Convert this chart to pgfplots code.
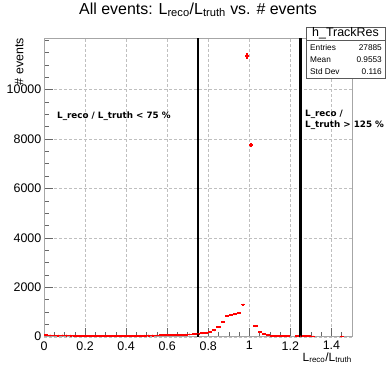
\documentclass[border=0pt]{standalone}
\usepackage{pgfplots}
\usepackage{pgfplotstable}
\pgfplotsset{compat=1.18}
\usepackage{fontspec}
\setmainfont{Liberation Sans}
\newfontfamily\djv{DejaVu Sans}

\pgfplotstableread{
x y ey
0.01 55 7.4
0.03 50 7.1
0.05 52 7.2
0.07 48 6.9
0.09 50 7.1
0.11 47 6.9
0.13 45 6.7
0.15 40 6.3
0.17 30 5.5
0.19 28 5.3
0.21 27 5.2
0.23 25 5.0
0.25 26 5.1
0.27 24 4.9
0.29 25 5.0
0.31 26 5.1
0.33 25 5.0
0.35 27 5.2
0.37 28 5.3
0.39 30 5.5
0.41 30 5.5
0.43 32 5.7
0.45 35 5.9
0.47 38 6.2
0.49 40 6.3
0.51 45 6.7
0.53 48 6.9
0.55 50 7.1
0.57 55 7.4
0.59 58 7.6
0.61 62 7.9
0.63 66 8.1
0.65 70 8.4
0.67 75 8.7
0.69 80 8.9
0.71 90 9.5
0.73 100 10.0
0.75 115 10.7
0.77 135 11.6
0.79 160 12.6
0.81 195 14.0
0.83 255 16.0
0.85 395 19.9
0.87 600 24.5
0.89 840 29.0
0.91 880 29.7
0.93 905 30.1
0.95 970 31.1
0.97 1300 36.1
0.99 11360 106.6
1.01 7760 88.1
1.03 425 20.6
1.05 190 13.8
1.07 110 10.5
1.09 55 7.4
1.11 35 5.9
1.13 28 5.3
1.15 22 4.7
1.17 20 4.5
1.19 18 4.2
1.23 18 4.2
1.25 16 4.0
1.27 15 3.9
1.29 14 3.7
1.31 12 3.5
1.45 10 3.2
}\histdata

\begin{document}
\begin{tikzpicture}
\useasboundingbox (0,0) rectangle (387bp,366bp);
\begin{axis}[
  at={(44bp,29.3bp)}, anchor=south west,
  scale only axis, width=308bp, height=298.7bp,
  xmin=0, xmax=1.5, ymin=0, ymax=12090,
  xtick={0,0.2,0.4,0.6,0.8,1,1.2,1.4},
  xticklabels={0,0.2,0.4,0.6,0.8,1,1.2,1.4},
  minor xtick={0.05,0.1,0.15,0.25,0.3,0.35,0.45,0.5,0.55,0.65,0.7,0.75,0.85,0.9,0.95,1.05,1.1,1.15,1.25,1.3,1.35,1.45},
  ytick={0,2000,4000,6000,8000,10000},
  yticklabels={0,2000,4000,6000,8000,10000},
  minor ytick={500,1000,1500,2500,3000,3500,4500,5000,5500,6500,7000,7500,8500,9000,9500,10500,11000,11500,12000},
  tick pos=left, tick align=inside,
  major tick length=9bp, minor tick length=4.5bp,
  tick style={gray!80!black, line width=0.6bp},
  grid=major,
  major grid style={gray!50, dash pattern=on 3bp off 2bp, line width=0.4bp},
  axis line style={gray!70, line width=0.8bp},
  tick label style={font=\fontsize{12.5}{14}\selectfont, inner sep=1bp},
  xticklabel style={yshift=-3.5bp},
  yticklabel style={xshift=-1.5bp},
  /pgf/number format/assume math mode=true,
  scaled y ticks=false,
  title={All events: L\textsubscript{reco}/L\textsubscript{truth} vs. \# events},
  title style={font=\fontsize{16}{19}\selectfont, at={(axis description cs:0.5,1)}, anchor=base, yshift=18bp},
  xlabel={L\textsubscript{reco}/L\textsubscript{truth}},
  xlabel style={font=\fontsize{12}{14}\selectfont, at={(axis description cs:1,0)}, anchor=base east, yshift=-24.5bp, inner sep=0pt},
  ylabel={\# events},
  ylabel style={font=\fontsize{12.5}{14}\selectfont, at={(axis description cs:-0.067,1)}, anchor=base east, inner sep=0pt},
]
\addplot[red, only marks, mark=*, mark size=0.6bp,
  error bars/.cd, x dir=both, x fixed=0.01, y dir=both, y explicit,
  error mark=none, error bar style={red, line width=1.8bp}]
  table[x=x, y=y, y error=ey] {\histdata};
\addplot[black, line width=2.9bp] coordinates {(0.75,0) (0.75,12090)};
\addplot[black, line width=2.9bp] coordinates {(1.25,0) (1.25,12090)};
\end{axis}
% text annotations
\node[anchor=base west, inner sep=0pt, font=\djv\bfseries\fontsize{8.8}{10}\selectfont] at (57bp,247.7bp) {L\_reco / L\_truth < 75 \%};
\node[anchor=base west, inner sep=0pt, font=\djv\bfseries\fontsize{8.8}{10}\selectfont] at (305bp,249.5bp) {L\_reco /};
\node[anchor=base west, inner sep=0pt, font=\djv\bfseries\fontsize{8.8}{10}\selectfont] at (305bp,238.5bp) {L\_truth > 125 \%};
% stats box
\draw[fill=white, draw=gray!70!black, line width=0.6bp] (306bp,288bp) rectangle (385bp,339bp);
\draw[gray!70!black, line width=0.6bp] (306bp,326bp) -- (385bp,326bp);
\node[anchor=base, inner sep=0pt, font=\fontsize{12.5}{14}\selectfont] at (345.5bp,329bp) {h\_TrackRes};
\node[anchor=base west, inner sep=0pt, font=\fontsize{8.3}{9}\selectfont] at (310bp,315bp) {Entries};
\node[anchor=base east, inner sep=0pt, font=\fontsize{8.3}{9}\selectfont] at (382bp,315bp) {27885};
\node[anchor=base west, inner sep=0pt, font=\fontsize{8.3}{9}\selectfont] at (310bp,303bp) {Mean};
\node[anchor=base east, inner sep=0pt, font=\fontsize{8.3}{9}\selectfont] at (382bp,303bp) {0.9553};
\node[anchor=base west, inner sep=0pt, font=\fontsize{8.3}{9}\selectfont] at (310bp,291bp) {Std Dev};
\node[anchor=base east, inner sep=0pt, font=\fontsize{8.3}{9}\selectfont] at (382bp,291bp) {0.116};
\end{tikzpicture}
\end{document}
